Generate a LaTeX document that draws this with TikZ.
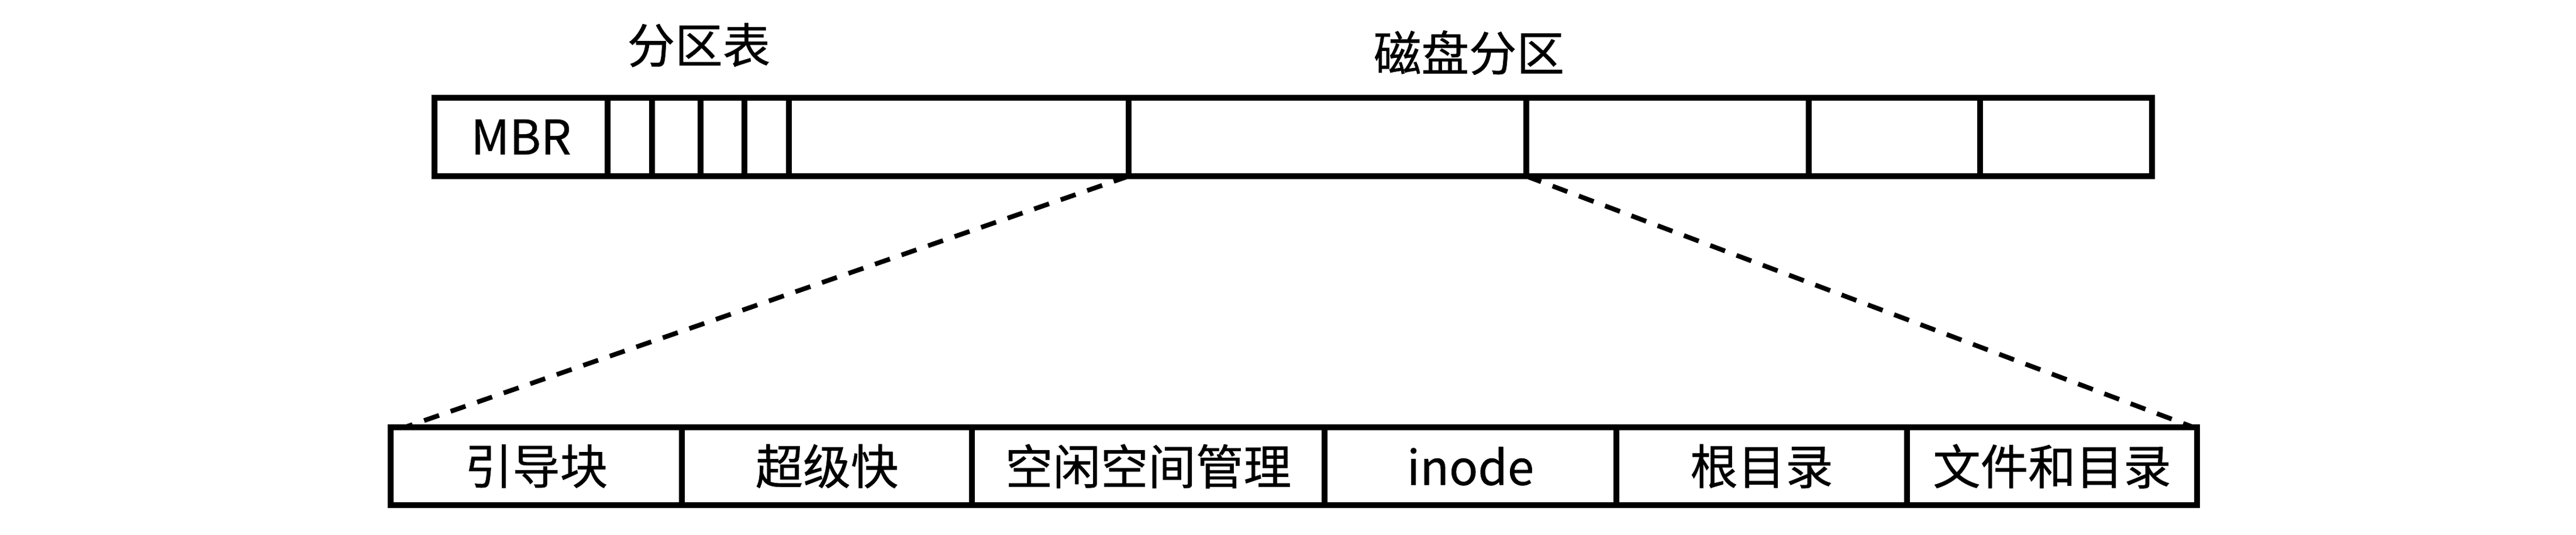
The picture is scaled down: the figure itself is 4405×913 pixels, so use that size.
\documentclass[tikz,border=0pt]{standalone}
\usepackage{fontspec}
\setmainfont{Noto Sans CJK SC}
\newfontfamily\lblfont{Noto Sans CJK SC}[FakeBold=0.6]
\usetikzlibrary{calc}
\tikzset{
  cell/.style={draw=black, line width=2pt, rectangle, inner sep=0pt, outer sep=0pt,
    font=\lblfont\fontsize{16.3pt}{20pt}\selectfont},
  topcell/.style={cell, minimum height=26.8pt},
  botcell/.style={cell, minimum height=26.6pt},
  title/.style={inner sep=0pt, font=\lblfont\fontsize{16.3pt}{20pt}\selectfont},
  zoomline/.style={draw=black, line width=1.6pt, dash pattern=on 5.4pt off 4.2pt}
}
\begin{document}
\begin{tikzpicture}[x=0.2pt, y=-0.2pt]
\useasboundingbox[fill=white] (0,0) rectangle (4405,913);
% top bar
\node[topcell, minimum width=59.2pt]  (mbr) at (891,234) {MBR};
\node[topcell, minimum width=15.2pt]  (p1)  at (1077,234) {};
\node[topcell, minimum width=16.6pt]  (p2)  at (1156.5,234) {};
\node[topcell, minimum width=15pt]    (p3)  at (1235.5,234) {};
\node[topcell, minimum width=15.2pt]  (p4)  at (1311,234) {};
\node[topcell, minimum width=116.2pt] (c6)  at (1639.5,234) {};
\node[topcell, minimum width=136pt]   (c7)  at (2270,234) {};
\node[topcell, minimum width=96.6pt]  (c8)  at (2851.5,234) {};
\node[topcell, minimum width=58.6pt]  (c9)  at (3239.5,234) {};
\node[topcell, minimum width=58.8pt]  (c10) at (3533,234) {};
% titles
\node[title] (ptab)  at (1195,77) {分区表};
\node[title] (dpart) at (2512,90) {磁盘分区};
% bottom bar
\node[botcell, minimum width=99.6pt]  (b1) at (917,796.5) {引导块};
\node[botcell, minimum width=99.2pt]  (b2) at (1414,796.5) {超级快};
\node[botcell, minimum width=120.6pt] (b3) at (1963.5,796.5) {空闲空间管理};
\node[botcell, minimum width=99.8pt]  (b4) at (2514.5,796.5) {inode};
\node[botcell, minimum width=99.4pt]  (b5) at (3012.5,796.5) {根目录};
\node[botcell, minimum width=99.2pt]  (b6) at (3509,796.5) {文件和目录};
% zoom lines
\coordinate (zl) at ($(b1.north west)+(24,0)$);
\coordinate (zr) at ($(b6.north east)+(-6,0)$);
\draw[zoomline] (c7.south west) -- (zl);
\draw[zoomline] (c7.south east) -- (zr);
\end{tikzpicture}
\end{document}
